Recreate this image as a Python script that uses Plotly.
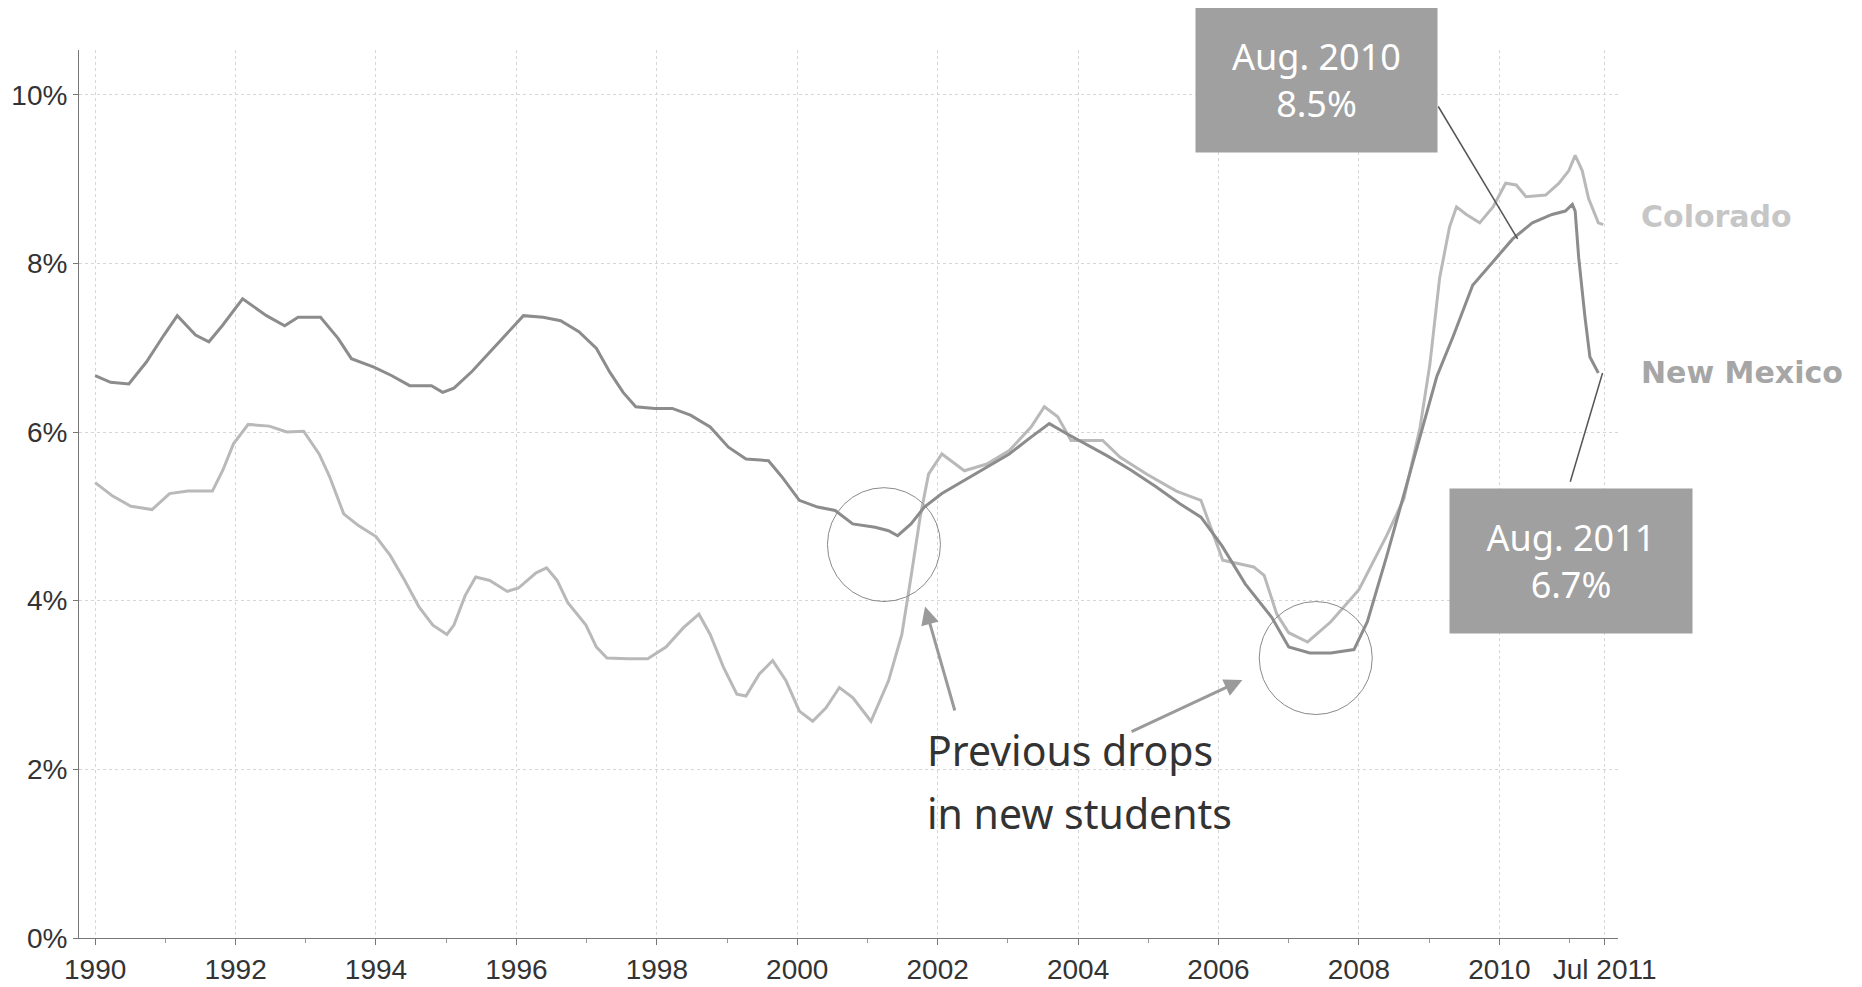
import plotly.graph_objects as go

# ---- data (decimal years, % values) ----
nm_years = [1990.00, 1990.22, 1990.48, 1990.73, 1990.98, 1991.17, 1991.43, 1991.62, 1991.81, 1992.10,
            1992.44, 1992.70, 1992.89, 1993.21, 1993.46, 1993.65, 1993.97, 1994.22, 1994.48, 1994.79,
            1994.95, 1995.11, 1995.37, 1995.62, 1995.87, 1996.10, 1996.38, 1996.63, 1996.89, 1997.14,
            1997.33, 1997.52, 1997.70, 1997.97, 1998.22, 1998.48, 1998.76, 1999.02, 1999.27, 1999.59,
            1999.78, 2000.03, 2000.29, 2000.54, 2000.79, 2001.11, 2001.30, 2001.43, 2001.62, 2001.81,
            2002.06, 2002.38, 2002.70, 2003.02, 2003.33, 2003.59, 2003.84, 2004.10, 2004.41, 2004.75,
            2005.11, 2005.45, 2005.75, 2006.05, 2006.38, 2006.76, 2007.00, 2007.30, 2007.60, 2007.93,
            2008.12, 2008.40, 2008.64, 2008.87, 2009.11, 2009.34, 2009.62, 2009.91, 2010.19, 2010.47,
            2010.75, 2010.94, 2011.04, 2011.08, 2011.13, 2011.22, 2011.29, 2011.41]
nm_values = [6.67, 6.59, 6.57, 6.83, 7.15, 7.38, 7.15, 7.07, 7.26, 7.58,
             7.38, 7.26, 7.36, 7.36, 7.11, 6.87, 6.77, 6.67, 6.55, 6.55,
             6.47, 6.52, 6.72, 6.95, 7.17, 7.38, 7.36, 7.32, 7.19, 6.99,
             6.71, 6.47, 6.30, 6.28, 6.28, 6.20, 6.06, 5.82, 5.68, 5.66,
             5.47, 5.19, 5.11, 5.07, 4.91, 4.87, 4.83, 4.77, 4.91, 5.11,
             5.27, 5.43, 5.58, 5.74, 5.94, 6.10, 5.98, 5.86, 5.72, 5.55,
             5.35, 5.15, 4.99, 4.65, 4.20, 3.80, 3.45, 3.38, 3.38, 3.42,
             3.75, 4.54, 5.26, 5.96, 6.66, 7.13, 7.74, 8.02, 8.29, 8.48,
             8.58, 8.62, 8.70, 8.62, 8.07, 7.36, 6.89, 6.70]

co_years = [1990.00, 1990.25, 1990.51, 1990.81, 1991.06, 1991.32, 1991.67, 1991.82, 1991.97, 1992.18,
            1992.48, 1992.73, 1992.97, 1993.19, 1993.34, 1993.54, 1993.75, 1994.00, 1994.20, 1994.41,
            1994.61, 1994.81, 1995.01, 1995.11, 1995.27, 1995.42, 1995.62, 1995.87, 1996.03, 1996.28,
            1996.43, 1996.58, 1996.73, 1996.99, 1997.14, 1997.29, 1997.59, 1997.87, 1998.13, 1998.38,
            1998.60, 1998.76, 1998.95, 1999.14, 1999.27, 1999.46, 1999.65, 1999.84, 2000.03, 2000.22,
            2000.41, 2000.60, 2000.79, 2001.05, 2001.30, 2001.49, 2001.62, 2001.75, 2001.87, 2002.06,
            2002.19, 2002.38, 2002.70, 2003.02, 2003.33, 2003.52, 2003.71, 2003.90, 2004.35, 2004.60,
            2004.98, 2005.40, 2005.75, 2006.06, 2006.50, 2006.65, 2006.83, 2007.00, 2007.27, 2007.60,
            2008.00, 2008.40, 2008.64, 2008.87, 2009.01, 2009.15, 2009.29, 2009.39, 2009.53, 2009.72,
            2009.91, 2010.09, 2010.24, 2010.38, 2010.66, 2010.85, 2010.99, 2011.08, 2011.18, 2011.27,
            2011.41, 2011.48]
co_values = [5.40, 5.24, 5.12, 5.08, 5.27, 5.30, 5.30, 5.55, 5.86, 6.09,
             6.07, 6.00, 6.01, 5.74, 5.47, 5.03, 4.89, 4.76, 4.54, 4.24,
             3.93, 3.71, 3.60, 3.71, 4.06, 4.28, 4.24, 4.11, 4.15, 4.33,
             4.39, 4.24, 3.98, 3.71, 3.45, 3.32, 3.31, 3.31, 3.45, 3.68,
             3.84, 3.60, 3.21, 2.89, 2.87, 3.13, 3.29, 3.05, 2.69, 2.57,
             2.73, 2.97, 2.85, 2.57, 3.05, 3.60, 4.28, 4.99, 5.50, 5.74,
             5.66, 5.54, 5.62, 5.78, 6.06, 6.30, 6.18, 5.90, 5.90, 5.70,
             5.50, 5.30, 5.19, 4.48, 4.40, 4.30, 3.84, 3.62, 3.51, 3.75,
             4.13, 4.78, 5.21, 6.05, 6.80, 7.83, 8.43, 8.67, 8.58, 8.48,
             8.67, 8.95, 8.93, 8.79, 8.81, 8.95, 9.10, 9.28, 9.10, 8.77,
             8.48, 8.46]

x_tick_vals = [1990, 1992, 1994, 1996, 1998, 2000, 2002, 2004, 2006, 2008, 2010, 2011.5]
x_tick_text = ["1990", "1992", "1994", "1996", "1998", "2000", "2002", "2004", "2006", "2008", "2010", "Jul 2011"]
x_minor_vals = [1991, 1993, 1995, 1997, 1999, 2001, 2003, 2005, 2007, 2009, 2011]
y_tick_vals = [0, 2, 4, 6, 8, 10]
y_tick_text = ["0%", "2%", "4%", "6%", "8%", "10%"]

series_names = ["Colorado", "New Mexico"]
series_colors = ["#b9b9b9", "#8c8c8c"]
label_colors = ["#c6c6c6", "#a6a6a6"]

fig = go.Figure()
fig.add_trace(go.Scatter(x=co_years, y=co_values, mode="lines", name=series_names[0],
                         line=dict(color=series_colors[0], width=3), showlegend=False))
fig.add_trace(go.Scatter(x=nm_years, y=nm_values, mode="lines", name=series_names[1],
                         line=dict(color=series_colors[1], width=3), showlegend=False))

tick_font = dict(family="Liberation Sans Narrow, Arial Narrow, Liberation Sans, sans-serif", size=28, color="#333")

# page body has an 8px margin, so the figure is offset by 8px inside the 1862x987 window
fig.update_layout(
    width=1846, height=979,
    margin=dict(l=71, r=236, t=42, b=49, autoexpand=False),
    paper_bgcolor="white", plot_bgcolor="white",
    xaxis=dict(range=[1989.77, 2011.69], tickmode="array", tickvals=x_tick_vals, ticktext=x_tick_text,
               ticks="outside", ticklen=6, tickcolor="#777", showline=True, linecolor="#777", linewidth=1,
               showgrid=True, gridcolor="#d6d6d6", griddash="dot", gridwidth=1, zeroline=False,
               tickfont=tick_font, automargin=False,
               minor=dict(tickmode="array", tickvals=x_minor_vals, ticks="outside", ticklen=4,
                          tickcolor="#999", showgrid=False)),
    yaxis=dict(range=[0, 10.53], tickmode="array", tickvals=y_tick_vals, ticktext=y_tick_text,
               ticks="outside", ticklen=5, tickcolor="#777", showline=True, linecolor="#777", linewidth=1,
               showgrid=True, gridcolor="#d6d6d6", griddash="dot", gridwidth=1, zeroline=False,
               tickfont=tick_font, automargin=False),
)

# series labels at line ends (paper coords, right of the plot)
label_font_family = "DejaVu Sans, sans-serif"
fig.add_annotation(xref="paper", yref="paper", x=1.0136, y=0.812, text="<b>Colorado</b>", showarrow=False,
                   xanchor="left", yanchor="middle",
                   font=dict(family=label_font_family, size=30, color=label_colors[0]))
fig.add_annotation(xref="paper", yref="paper", x=1.0136, y=0.637, text="<b>New Mexico</b>", showarrow=False,
                   xanchor="left", yanchor="middle",
                   font=dict(family=label_font_family, size=30, color=label_colors[1]))

# callout boxes (paper coords)
box_font = dict(family="Noto Sans, Open Sans, sans-serif", size=36, color="white")
fig.add_annotation(xref="paper", yref="paper", x=0.8041, y=0.9662, text="Aug. 2010<br>8.5%",
                   showarrow=False, width=241, height=144, bgcolor="#a0a0a0", borderpad=0,
                   align="center", valign="middle", font=box_font, xanchor="center", yanchor="middle")
fig.add_annotation(xref="paper", yref="paper", x=0.9695, y=0.4245, text="Aug. 2011<br>6.7%",
                   showarrow=False, width=242, height=144, bgcolor="#a0a0a0", borderpad=0,
                   align="center", valign="middle", font=box_font, xanchor="center", yanchor="middle")

# connector lines for callouts
fig.add_shape(type="line", x0=2009.13, y0=9.86, x1=2010.26, y1=8.29, line=dict(color="#555", width=1.5))
fig.add_shape(type="line", x0=2011.01, y0=5.41, x1=2011.47, y1=6.70, line=dict(color="#555", width=1.5))

# circles
fig.add_shape(type="circle", x0=2000.43, x1=2002.04, y0=3.99, y1=5.34, line=dict(color="#8a8a8a", width=1))
fig.add_shape(type="circle", x0=2006.58, x1=2008.19, y0=2.65, y1=3.99, line=dict(color="#8a8a8a", width=1))

# "Previous drops" text (two lines) and arrows
note_font = dict(family="Noto Sans, Open Sans, sans-serif", size=41, color="#333")
fig.add_annotation(x=2001.82, y=2.23, text="Previous drops", showarrow=False,
                   xanchor="left", yanchor="middle", font=note_font)
fig.add_annotation(x=2001.82, y=1.48, text="in new students", showarrow=False,
                   xanchor="left", yanchor="middle", font=note_font)
fig.add_annotation(x=2001.82, y=3.93, ax=2002.25, ay=2.68, axref="x", ayref="y", text="",
                   showarrow=True, arrowhead=2, arrowsize=1.2, arrowwidth=3, arrowcolor="#9a9a9a")
fig.add_annotation(x=2006.34, y=3.06, ax=2004.74, ay=2.44, axref="x", ayref="y", text="",
                   showarrow=True, arrowhead=2, arrowsize=1.2, arrowwidth=3, arrowcolor="#9a9a9a")

fig.write_html("out.html")
